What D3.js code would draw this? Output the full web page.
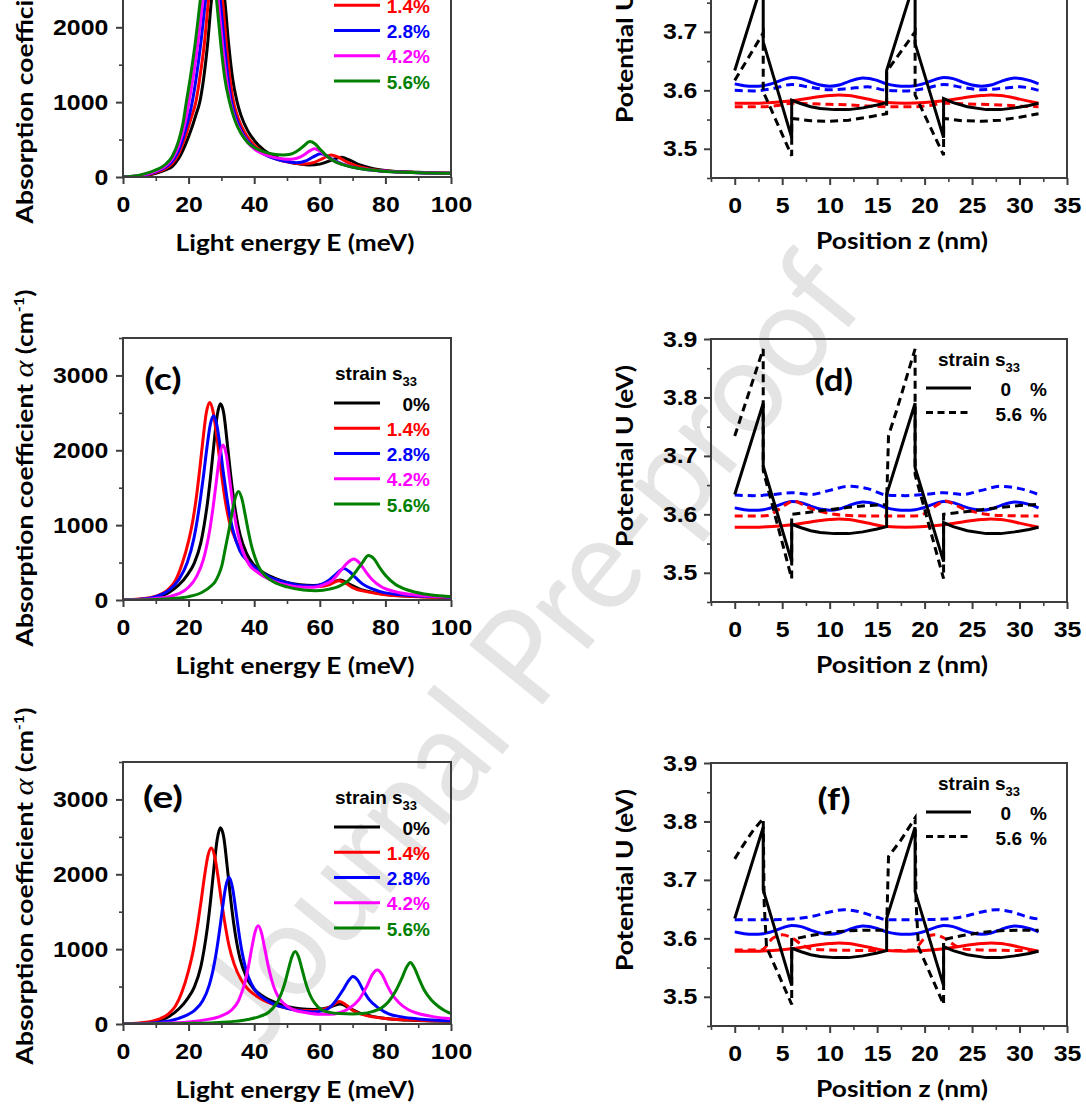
<!DOCTYPE html>
<html>
<head>
<meta charset="utf-8">
<script src="https://cdn.jsdelivr.net/npm/d3@7"></script>
<style>
  html, body { margin: 0; padding: 0; background: #fff; }
  svg { display: block; }
</style>
</head>
<body>
<svg id="fig" width="1086" height="1108"></svg>
<script>
// ---------- categories, ticks ----------
const strainLabels = ["0%", "1.4%", "2.8%", "4.2%", "5.6%"];
const strainColors = ["#000000", "#ff0000", "#0000ff", "#ff00ff", "#008000"];

const energyTicks = [0, 20, 40, 60, 80, 100];
const energyMinor = [10, 30, 50, 70, 90];
const alphaTicks = [0, 1000, 2000, 3000];
const alphaMinor = [500, 1500, 2500, 3500];
const positionTicks = [0, 5, 10, 15, 20, 25, 30, 35];
const positionMinor = [-2.5, 2.5, 7.5, 12.5, 17.5, 22.5, 27.5, 32.5];
const potentialTicks = [3.5, 3.6, 3.7, 3.8, 3.9];
const potentialMinor = [3.45, 3.55, 3.65, 3.75, 3.85];
const potentialLegend = [["0", "%"], ["5.6", "%"]];

// ---------- absorption spectra [E (meV), alpha (cm^-1)] ----------
// panel (a)
const alphaA0 = [[0,0],[5,10],[10,48],[13,95],[15,140],[17,250],[19,430],[21,660],[22.3,840],[23.4,1000],[24.6,1320],[25.8,1780],[27,2376],[28,2680],[29,2770],[30,2680],[31,2376],[32.2,1780],[33.4,1320],[34.8,1000],[36,820],[38,620],[40,490],[43,360],[46,280],[50,210],[54,172],[57,161],[60,172],[63,215],[66.6,264],[69,228],[72,165],[76,115],[80,88],[90,62],[100,50]];
const alphaA14 = [[0,0],[5,14],[10,60],[13,115],[15,180],[17,310],[19,540],[20.8,790],[22.2,1000],[23.4,1320],[24.8,1780],[26.1,2376],[27.2,2720],[28.2,2820],[29.2,2720],[30.3,2376],[31.5,1780],[32.6,1320],[33.7,1000],[35,800],[37,600],[39,475],[41,385],[44,295],[47,235],[51,192],[55,175],[58,192],[61,250],[63.5,295],[65.5,268],[68,205],[71,150],[75,108],[80,80],[90,60],[100,50]];
const alphaA28 = [[0,0],[5,17],[10,70],[13,132],[15,210],[17,360],[19,620],[21.1,1000],[22.3,1320],[23.7,1780],[25.2,2376],[26.5,2760],[27.5,2880],[28.5,2760],[29.6,2376],[30.9,1780],[32,1320],[33.1,1000],[34.5,790],[36,625],[38,485],[40,395],[43,305],[46,248],[49,212],[52.8,192],[56,220],[58,268],[60.3,309],[62,285],[64,232],[67,172],[70,132],[75,97],[80,76],[90,58],[100,50]];
const alphaA42 = [[0,0],[5,20],[10,80],[13,150],[15,240],[17,420],[19,740],[20.1,1000],[21.3,1310],[22.8,1780],[24.4,2376],[25.8,2840],[26.8,2950],[27.8,2840],[29,2376],[30.3,1780],[31.4,1350],[32.7,1000],[34,790],[36,595],[38,465],[40,375],[43,305],[46,262],[49,240],[51,237],[53,250],[55,290],[56.8,345],[58.4,376],[60,348],[62,280],[64,222],[67,168],[70,132],[75,97],[80,76],[90,58],[100,50]];
const alphaA56 = [[0,0],[5,25],[10,94],[13,170],[15,273],[17,490],[18.3,720],[19.3,1000],[20.5,1320],[22,1780],[23.6,2376],[25,2900],[26,3050],[27,2920],[28.5,2376],[29.8,1780],[31,1330],[32.5,1000],[34,770],[36,580],[38,462],[40,395],[43,335],[46,305],[48.8,295],[51,305],[53,345],[55,410],[57,474],[58.5,445],[60,375],[62,285],[64,220],[67,165],[70,130],[75,96],[80,75],[90,58],[100,50]];

// unstrained spectrum, shared by panels (c) and (e)
const alpha0 = [[0,0],[5,8],[10,35],[14,100],[17,200],[19.7,340],[21.7,490],[23.7,760],[24.7,990],[25.7,1280],[26.7,1650],[27.7,2075],[28.7,2460],[29.7,2620],[30.7,2500],[31.7,2130],[32.7,1720],[33.7,1360],[34.7,1080],[35.7,870],[37.7,620],[39.7,480],[43,360],[46,295],[50,235],[54,205],[58,195],[61,205],[63.5,232],[66.3,268],[69,212],[72,148],[76,102],[80,74],[90,47],[100,37]];

// panel (c)
const alphaC14 = [[0,0],[5,12],[10,50],[14,150],[16,260],[18,480],[20,790],[21.4,1090],[22.4,1385],[23.4,1750],[24.4,2150],[25.4,2500],[26.4,2640],[27.4,2530],[28.4,2250],[29.4,1900],[30.4,1560],[31.4,1270],[32.4,1050],[34.4,800],[36.4,630],[38,520],[40,437],[45,290],[50,222],[55,185],[60,180],[63,205],[65.8,258],[68,220],[70,165],[75,105],[80,70],[90,45],[100,36]];
const alphaC28 = [[0,0],[5,10],[10,45],[14,130],[17,270],[19.6,500],[21.6,820],[22.6,1060],[23.6,1350],[24.6,1680],[25.6,2040],[26.6,2340],[27.6,2460],[28.6,2340],[29.6,2050],[30.6,1700],[31.6,1390],[32.6,1120],[33.6,920],[35.6,660],[38,520],[40,440],[45,300],[50,230],[55,190],[58,188],[61,220],[63,270],[65,350],[67.4,420],[69,380],[71,295],[73,215],[76,148],[80,95],[90,52],[100,38]];
const alphaC42 = [[0,0],[5,6],[10,20],[14,45],[17,85],[20,170],[22.5,320],[24.5,540],[25.5,720],[26.5,950],[27.5,1250],[28.5,1600],[29.5,1930],[30.5,2070],[31.5,1940],[32.5,1610],[33.5,1280],[34.5,1000],[35.5,800],[36.5,650],[38.5,470],[41,370],[45,270],[50,200],[55,170],[58,170],[61,200],[64,270],[66.5,400],[68.5,500],[70.4,549],[72,500],[74,380],[76,270],[79,170],[83,110],[90,62],[100,40]];
const alphaC56 = [[0,0],[10,8],[15,20],[20,45],[24,100],[27.2,200],[28,240],[29.2,340],[30.2,470],[31.2,690],[32.2,910],[33.2,1150],[34.2,1360],[35.2,1450],[36.2,1360],[37.2,1150],[38.2,920],[39.2,720],[40.2,575],[41.2,460],[43.2,330],[46,240],[50,175],[55,135],[59,125],[63,145],[66,185],[69,270],[71,380],[73,500],[74.8,593],[76.5,550],[78,450],[80,330],[83,210],[87,130],[92,80],[100,45]];

// panel (e)
const alphaE14 = [[0,0],[5,12],[10,50],[14,140],[16,240],[18,430],[19.9,700],[21.5,1000],[22.9,1365],[23.9,1670],[24.9,1990],[25.9,2250],[26.9,2351],[27.9,2250],[28.9,1990],[29.9,1680],[30.9,1390],[32.3,1050],[33.9,800],[35.9,600],[38,470],[40,395],[45,275],[50,210],[55,180],[60,185],[63,225],[66,299],[68,255],[70,185],[74,115],[80,75],[90,50],[100,40]];
const alphaE28 = [[0,0],[5,5],[10,18],[14,40],[17,75],[20,130],[22,190],[24.3,310],[26.3,520],[27.3,690],[28.3,920],[29.3,1205],[30.3,1535],[31.3,1830],[32.3,1959],[33.3,1840],[34.3,1550],[35.3,1230],[36.3,960],[37.3,760],[38.3,620],[40.3,450],[43,340],[46,265],[50,210],[55,170],[58,160],[61,175],[63,220],[65,320],[67,450],[68.5,560],[70.1,634],[71.5,590],[73,470],[75,330],[78,210],[81,135],[85,95],[90,68],[100,45]];
const alphaE42 = [[0,0],[10,8],[20,28],[25,55],[30,110],[33.2,190],[35.2,310],[36.2,420],[37.2,560],[38.2,760],[39.2,1000],[40.2,1218],[41.2,1312],[42.2,1220],[43.2,1010],[44.2,790],[45.2,610],[46.2,470],[47.2,375],[49.2,265],[52,190],[56,150],[60,130],[63,130],[66,150],[69,210],[72,330],[74.5,520],[76,660],[77.5,723],[79,660],[80.5,520],[82,400],[84,290],[87,190],[90,140],[95,95],[100,70]];
const alphaE56 = [[0,0],[10,3],[20,8],[28,18],[34,35],[38,60],[42,105],[44.5,160],[46.5,255],[47.5,330],[48.5,434],[49.5,571],[50.5,740],[51.5,898],[52.5,968],[53.5,900],[54.5,745],[55.5,580],[56.5,445],[57.5,345],[58.5,275],[60.5,190],[63,155],[66,140],[70,135],[73,140],[76,165],[79,220],[81,300],[83,430],[85,610],[86.5,760],[87.6,821],[88.7,760],[90.2,610],[92,440],[94,320],[96,240],[98,180],[100,140]];

// ---------- potential profiles [z (nm), U (eV)] ----------
// unstrained (solid) profiles, common to panels (b), (d), (f)
const potBlackSolid = [[0,3.634],[3,3.790],[3,3.683],[6,3.519],[6,3.583],[7,3.577],[8,3.572],[9,3.569],[10.5,3.567],[12,3.567],[13.5,3.570],[15,3.575],[16,3.579],[16,3.634],[19,3.790],[19,3.680],[22,3.519],[22,3.586],[23,3.579],[24.5,3.572],[26.5,3.567],[28,3.567],[29.5,3.570],[31,3.574],[32,3.578]];
const potBlueSolid = [[0,3.611],[1,3.608],[2,3.607],[3,3.608],[4,3.612],[5,3.618],[6,3.622],[7,3.620],[8,3.614],[9,3.609],[10,3.607],[11,3.609],[12,3.615],[13.5,3.621],[15,3.617],[16,3.611],[17,3.608],[18,3.607],[19,3.608],[20,3.612],[21,3.618],[22,3.622],[23,3.620],[24,3.614],[25,3.609],[26,3.607],[27,3.609],[28,3.615],[29.5,3.621],[31,3.617],[32,3.611]];
const potRedSolid = [[0,3.578],[2,3.578],[4,3.579],[6,3.582],[8,3.587],[10,3.591],[11,3.592],[12,3.591],[14,3.585],[16,3.579],[18,3.578],[20,3.579],[22,3.582],[24,3.587],[26,3.591],[27,3.592],[28,3.591],[30,3.585],[32,3.578]];

// strained (dashed) profiles, panel (b)
const potB_blackDash = [[0,3.617],[3,3.698],[3,3.598],[6,3.488],[6,3.552],[8,3.548],[10,3.547],[12,3.549],[14,3.554],[16,3.560],[16,3.632],[19,3.700],[19,3.592],[22,3.489],[22,3.552],[24,3.548],[26,3.547],[28,3.549],[30,3.554],[32,3.560]];
const potB_blueDash = [[0,3.600],[2,3.599],[4,3.603],[6,3.610],[8,3.605],[10,3.601],[12,3.603],[14,3.606],[16,3.600],[18,3.599],[20,3.603],[22,3.610],[24,3.605],[26,3.601],[28,3.603],[30,3.606],[32,3.600]];
const potB_redDash = [[0,3.572],[3,3.572],[4.5,3.574],[6,3.578],[8,3.577],[10,3.576],[12,3.575],[14,3.573],[16,3.572],[19,3.572],[20.5,3.574],[22,3.578],[24,3.577],[26,3.576],[28,3.575],[30,3.573],[32,3.572]];

// panel (d)
const potD_blackDash = [[0,3.734],[3,3.883],[3,3.675],[6,3.490],[6,3.600],[8,3.604],[10,3.608],[12,3.612],[14,3.615],[16,3.617],[16.2,3.735],[17,3.775],[19,3.883],[19,3.668],[22,3.490],[22,3.600],[24,3.604],[26,3.608],[28,3.612],[30,3.615],[32,3.617]];
const potD_blueDash = [[0,3.633],[2,3.632],[4,3.634],[6,3.637],[8,3.634],[10,3.641],[12,3.648],[14,3.644],[16,3.633],[18,3.632],[20,3.634],[22,3.637],[24,3.634],[26,3.641],[28,3.648],[30,3.644],[32,3.634]];
const potD_redDash = [[0,3.597],[2,3.597],[3.5,3.598],[4.5,3.607],[5.5,3.618],[6.2,3.623],[7,3.618],[8,3.610],[9,3.605],[10.5,3.600],[12,3.598],[16,3.597],[18,3.597],[19.5,3.598],[20.5,3.607],[21.5,3.618],[22.2,3.623],[23,3.618],[24,3.610],[25,3.605],[26.5,3.600],[28,3.598],[32,3.597]];

// panel (f)
const potF_blackDash = [[0,3.736],[1,3.762],[2,3.786],[3,3.805],[3.1,3.660],[3.35,3.585],[6,3.487],[6,3.598],[8,3.605],[10,3.610],[12,3.613],[14,3.614],[16,3.614],[16.2,3.740],[17.5,3.768],[19,3.806],[19.1,3.662],[19.35,3.585],[22,3.487],[22,3.598],[24,3.605],[26,3.610],[28,3.613],[30,3.614],[32,3.614]];
const potF_blueDash = [[0,3.632],[2,3.632],[4,3.632],[6,3.633],[8,3.637],[10,3.645],[11.5,3.649],[13,3.646],[15,3.636],[16,3.632],[18,3.632],[20,3.632],[22,3.633],[24,3.637],[26,3.645],[27.5,3.649],[29,3.646],[31,3.636],[32,3.633]];
const potF_redDash = [[0,3.580],[2.8,3.580],[4,3.600],[5,3.606],[6,3.601],[7,3.590],[8,3.582],[10,3.580],[16,3.579],[18.8,3.580],[20,3.600],[21,3.606],[22,3.601],[23,3.590],[24,3.582],[26,3.580],[32,3.579]];

// ---------- drawing ----------
const svg = d3.select("#fig");
const NUM_FONT = "'Liberation Sans', Arial, sans-serif";
const TITLE_FONT = "Lato, 'Open Sans', sans-serif";
const FRAME = "#3d3d3d";
const TICK_SX = 1.13;
const LINE_W = 3;

svg.append("rect").attr("width", 1086).attr("height", 1108).attr("fill", "#fff");

// watermark
svg.append("text")
  .attr("transform", "translate(566,676) rotate(-51)")
  .attr("text-anchor", "middle")
  .attr("font-family", TITLE_FONT)
  .attr("font-size", 132)
  .attr("fill", "#e4e4e4")
  .attr("textLength", 960)
  .attr("lengthAdjust", "spacingAndGlyphs")
  .text("Journal Pre-proof");

function fitTitle(parent, parts, cx, cy, width, rot, size) {
  const t = parent.append("text")
    .attr("font-family", TITLE_FONT)
    .attr("font-weight", "bold")
    .attr("font-size", size)
    .attr("text-anchor", "middle")
    .attr("y", size * 0.35)
    .attr("fill", "#000");
  parts.forEach(p => {
    const s = t.append("tspan").text(p.t);
    if (p.a) Object.entries(p.a).forEach(([k, v]) => s.attr(k, v));
  });
  const len = t.node().getComputedTextLength();
  t.attr("transform", `translate(${cx},${cy}) rotate(${rot}) scale(${width / len},1)`);
  return t;
}

function styleAxis(ax, major) {
  ax.select(".domain").remove();
  ax.attr("color", "#000");
  ax.selectAll("line").attr("stroke", FRAME).attr("stroke-width", major ? 2 : 1.6);
  ax.selectAll("text")
    .attr("font-family", NUM_FONT)
    .attr("font-weight", "bold")
    .attr("font-size", 22)
    .attr("fill", "#000")
    .attr("transform", `scale(${TICK_SX},1)`);
}

let clipCount = 0;
function plotBody(g, x0, y0, w, h) {
  const id = "clip" + (clipCount++);
  g.append("clipPath").attr("id", id).append("rect").attr("x", x0).attr("y", y0).attr("width", w).attr("height", h);
  return g.append("g").attr("clip-path", `url(#${id})`);
}

function legendTitle(g, x, y) {
  if (y < 0) return;
  const t = g.append("text")
    .attr("x", x).attr("y", y)
    .attr("font-family", NUM_FONT).attr("font-weight", "bold")
    .attr("font-size", 19).attr("fill", "#000");
  t.append("tspan").text("strain s");
  t.append("tspan").attr("font-size", 13).attr("dy", 6).text("33");
}

// ---- absorption panels ----
function absorptionPanel(top, series, tag, tagDy, tagW, ytitleCy) {
  const x0 = 123, x1 = 451, h = 262;
  const x = d3.scaleLinear().domain([0, 100]).range([x0, x1]);
  const y = d3.scaleLinear().domain([0, 3500]).range([top + h, top]);
  const g = svg.append("g");
  const body = plotBody(g, x0, top, x1 - x0, h);
  const line = d3.line().x(d => x(d[0])).y(d => y(d[1])).curve(d3.curveMonotoneX);
  series.forEach((s, i) => {
    body.append("path").attr("d", line(s)).attr("fill", "none")
      .attr("stroke", strainColors[i]).attr("stroke-width", LINE_W)
      .attr("stroke-linejoin", "round");
  });
  g.append("rect").attr("x", x0).attr("y", top).attr("width", x1 - x0).attr("height", h)
    .attr("fill", "none").attr("stroke", FRAME).attr("stroke-width", 2);

  const axB = g.append("g").attr("transform", `translate(0,${top + h})`)
    .call(d3.axisBottom(x).tickValues(energyTicks).tickSize(7).tickSizeOuter(0).tickPadding(12).tickFormat(d3.format("d")));
  styleAxis(axB, true);
  const axBm = g.append("g").attr("transform", `translate(0,${top + h})`)
    .call(d3.axisBottom(x).tickValues(energyMinor).tickSize(4).tickSizeOuter(0).tickFormat(""));
  styleAxis(axBm, false);
  const axL = g.append("g").attr("transform", `translate(${x0},0)`)
    .call(d3.axisLeft(y).tickValues(alphaTicks.filter(v => y(v) > 0)).tickSize(7).tickSizeOuter(0).tickPadding(6).tickFormat(d3.format("d")));
  styleAxis(axL, true);
  const axLm = g.append("g").attr("transform", `translate(${x0},0)`)
    .call(d3.axisLeft(y).tickValues(alphaMinor).tickSize(4).tickSizeOuter(0).tickFormat(""));
  styleAxis(axLm, false);

  // legend
  legendTitle(g, 335, top + 42);
  strainLabels.forEach((lab, i) => {
    const ly = top + 65 + 25.25 * i;
    g.append("line").attr("x1", 334).attr("x2", 380).attr("y1", ly).attr("y2", ly)
      .attr("stroke", strainColors[i]).attr("stroke-width", LINE_W);
    if (ly + 7.5 > 0) {
      g.append("text").attr("x", 430).attr("y", ly + 7.5).attr("text-anchor", "end")
        .attr("font-family", NUM_FONT).attr("font-weight", "bold").attr("font-size", 19)
        .attr("fill", strainColors[i]).text(lab);
    }
  });

  // panel tag
  if (top + tagDy > 0) fitTitle(g, [{ t: tag }], 163, top + tagDy, tagW, 0, 30);

  // axis titles
  fitTitle(g, [{ t: "Light energy E (meV)" }], 295, top + 328, 239, 0, 23);
  fitTitle(g, [
    { t: "Absorption coefficient " },
    { t: "α", a: { "font-family": "'Liberation Serif', 'DejaVu Serif', serif", "font-style": "italic", "font-weight": "normal", "font-size": 28 } },
    { t: " (cm" },
    { t: "-1", a: { "font-size": 14, "dy": -9 } },
    { t: ")", a: { "dy": 9 } }
  ], 25, ytitleCy, 357, -90, 23);
}

// ---- potential panels ----
function potentialPanel(top, dashed, tag, tagDy, tagW) {
  const x0 = 711, x1 = 1067, h = 263;
  const x = d3.scaleLinear().domain([-2.5, 35]).range([x0, x1]);
  const y = d3.scaleLinear().domain([3.45, 3.9]).range([top + h, top]);
  const g = svg.append("g");
  const body = plotBody(g, x0, top, x1 - x0, h);
  const smooth = d3.line().x(d => x(d[0])).y(d => y(d[1])).curve(d3.curveMonotoneX);
  const straight = d3.line().x(d => x(d[0])).y(d => y(d[1])).curve(d3.curveLinear);
  const draw = (data, gen, color, dash) => {
    const p = body.append("path").attr("d", gen(data)).attr("fill", "none")
      .attr("stroke", color).attr("stroke-width", LINE_W).attr("stroke-linejoin", "miter");
    if (dash) p.attr("stroke-dasharray", "8,5");
  };
  draw(dashed.blue, smooth, "#0000ff", true);
  draw(potBlueSolid, smooth, "#0000ff", false);
  draw(dashed.red, smooth, "#ff0000", true);
  draw(potRedSolid, smooth, "#ff0000", false);
  draw(dashed.black, straight, "#000000", true);
  draw(potBlackSolid, straight, "#000000", false);

  g.append("rect").attr("x", x0).attr("y", top).attr("width", x1 - x0).attr("height", h)
    .attr("fill", "none").attr("stroke", FRAME).attr("stroke-width", 2);

  const axB = g.append("g").attr("transform", `translate(0,${top + h})`)
    .call(d3.axisBottom(x).tickValues(positionTicks).tickSize(7).tickSizeOuter(0).tickPadding(12).tickFormat(d3.format("d")));
  styleAxis(axB, true);
  const axBm = g.append("g").attr("transform", `translate(0,${top + h})`)
    .call(d3.axisBottom(x).tickValues(positionMinor).tickSize(4).tickSizeOuter(0).tickFormat(""));
  styleAxis(axBm, false);
  const axL = g.append("g").attr("transform", `translate(${x0},0)`)
    .call(d3.axisLeft(y).tickValues(potentialTicks.filter(v => y(v) > 0)).tickSize(7).tickSizeOuter(0).tickPadding(5).tickFormat(d3.format(".1f")));
  styleAxis(axL, true);
  const axLm = g.append("g").attr("transform", `translate(${x0},0)`)
    .call(d3.axisLeft(y).tickValues(potentialMinor).tickSize(4).tickSizeOuter(0).tickFormat(""));
  styleAxis(axLm, false);

  // legend
  legendTitle(g, 938, top + 27);
  potentialLegend.forEach((row, i) => {
    const ly = top + 49 + 24.5 * i;
    const l = g.append("line").attr("x1", 926).attr("x2", 971).attr("y1", ly).attr("y2", ly)
      .attr("stroke", "#000").attr("stroke-width", LINE_W);
    if (i === 1) l.attr("stroke-dasharray", "7,4.5");
    if (ly + 8 <= 0) return;
    const txt = (s, xe) => g.append("text").attr("x", xe).attr("y", ly + 8).attr("text-anchor", "end")
      .attr("font-family", NUM_FONT).attr("font-weight", "bold").attr("font-size", 19)
      .attr("fill", "#000").text(s);
    txt(row[0], i === 0 ? 1011 : 1022);
    txt(row[1], 1047);
  });

  if (top + tagDy > 0) fitTitle(g, [{ t: tag }], 834, top + tagDy, tagW, 0, 30);
  fitTitle(g, [{ t: "Position z (nm)" }], 902, top + 326, 172, 0, 23);
  fitTitle(g, [{ t: "Potential U (eV)" }], 625, top + 117, 182, -90, 23);
}

// left column: absorption spectra
absorptionPanel(-85, [alphaA0, alphaA14, alphaA28, alphaA42, alphaA56], "(a)", 41.5, 37, 45);
absorptionPanel(338, [alpha0, alphaC14, alphaC28, alphaC42, alphaC56], "(c)", 41.5, 37, 468);
absorptionPanel(762, [alpha0, alphaE14, alphaE28, alphaE42, alphaE56], "(e)", 35.5, 40, 886);

// right column: potential profiles
potentialPanel(-85, { black: potB_blackDash, blue: potB_blueDash, red: potB_redDash }, "(b)", 41, 38);
potentialPanel(339, { black: potD_blackDash, blue: potD_blueDash, red: potD_redDash }, "(d)", 41, 38);
potentialPanel(763, { black: potF_blackDash, blue: potF_blueDash, red: potF_redDash }, "(f)", 36, 33);
</script>
</body>
</html>
